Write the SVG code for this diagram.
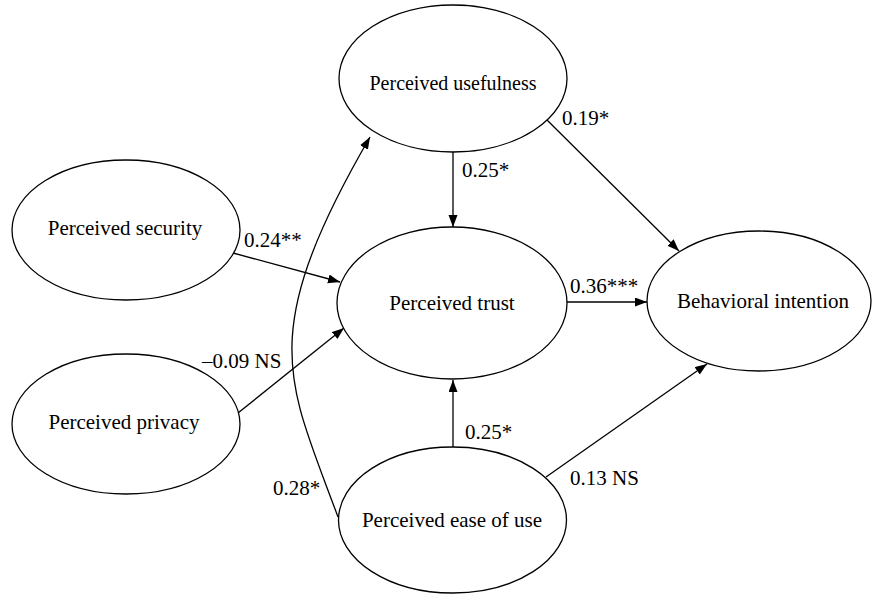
<svg xmlns="http://www.w3.org/2000/svg" width="873" height="594" viewBox="0 0 873 594">
<defs>
<marker id="ah" markerUnits="userSpaceOnUse" markerWidth="13" markerHeight="10" refX="12" refY="4.5" orient="auto">
<path d="M0,0 L12,4.5 L0,9 z" fill="#000"/>
</marker>
</defs>
<rect width="873" height="594" fill="#fff"/>
<g id="connectors" fill="none" stroke="#000" stroke-width="1.3">
<path d="M453,152 L453,227" marker-end="url(#ah)"/>
<path d="M567,302 L647,302" marker-end="url(#ah)"/>
<path d="M453,447 L453,380" marker-end="url(#ah)"/>
<path d="M233,253 L340,282" marker-end="url(#ah)"/>
<path d="M238,413 L344,328" marker-end="url(#ah)"/>
<path d="M547,120 L679,251" marker-end="url(#ah)"/>
<path d="M546,477 L707,364" marker-end="url(#ah)"/>
<path d="M338,517 C287.6,380 254.8,336 370,137" marker-end="url(#ah)"/>
</g>
<g id="labels">
<text x="562" y="125" font-family="Liberation Serif" font-size="21">0.19*</text>
<text x="462" y="177" font-family="Liberation Serif" font-size="21">0.25*</text>
<text x="244" y="247" font-family="Liberation Serif" font-size="21">0.24**</text>
<text x="570" y="293" font-family="Liberation Serif" font-size="21">0.36***</text>
<text x="202" y="368" font-family="Liberation Serif" font-size="21">–0.09 NS</text>
<text x="465" y="439" font-family="Liberation Serif" font-size="21">0.25*</text>
<text x="570" y="485" font-family="Liberation Serif" font-size="21">0.13 NS</text>
<text x="273" y="495" font-family="Liberation Serif" font-size="21">0.28*</text>
</g>
<g id="usefulness">
<ellipse cx="453" cy="78.5" rx="114" ry="73.5" fill="#fff" stroke="#000" stroke-width="1.3"/>
<text x="453" y="90" text-anchor="middle" font-family="Liberation Serif" font-size="21" textLength="167" lengthAdjust="spacingAndGlyphs">Perceived usefulness</text>
</g>
<g id="security">
<ellipse cx="126" cy="230" rx="114" ry="70" fill="#fff" stroke="#000" stroke-width="1.3"/>
<text x="125" y="235" text-anchor="middle" font-family="Liberation Serif" font-size="21">Perceived security</text>
</g>
<g id="trust">
<ellipse cx="452" cy="303" rx="115" ry="76" fill="#fff" stroke="#000" stroke-width="1.3"/>
<text x="452" y="310" text-anchor="middle" font-family="Liberation Serif" font-size="21">Perceived trust</text>
</g>
<g id="intention">
<ellipse cx="759" cy="301" rx="112" ry="70" fill="#fff" stroke="#000" stroke-width="1.3"/>
<text x="763" y="308" text-anchor="middle" font-family="Liberation Serif" font-size="21">Behavioral intention</text>
</g>
<g id="privacy">
<ellipse cx="126" cy="424" rx="114" ry="70" fill="#fff" stroke="#000" stroke-width="1.3"/>
<text x="124" y="429" text-anchor="middle" font-family="Liberation Serif" font-size="21">Perceived privacy</text>
</g>
<g id="ease">
<ellipse cx="452.5" cy="520" rx="114" ry="73" fill="#fff" stroke="#000" stroke-width="1.3"/>
<text x="452" y="527" text-anchor="middle" font-family="Liberation Serif" font-size="21">Perceived ease of use</text>
</g>
</svg>
